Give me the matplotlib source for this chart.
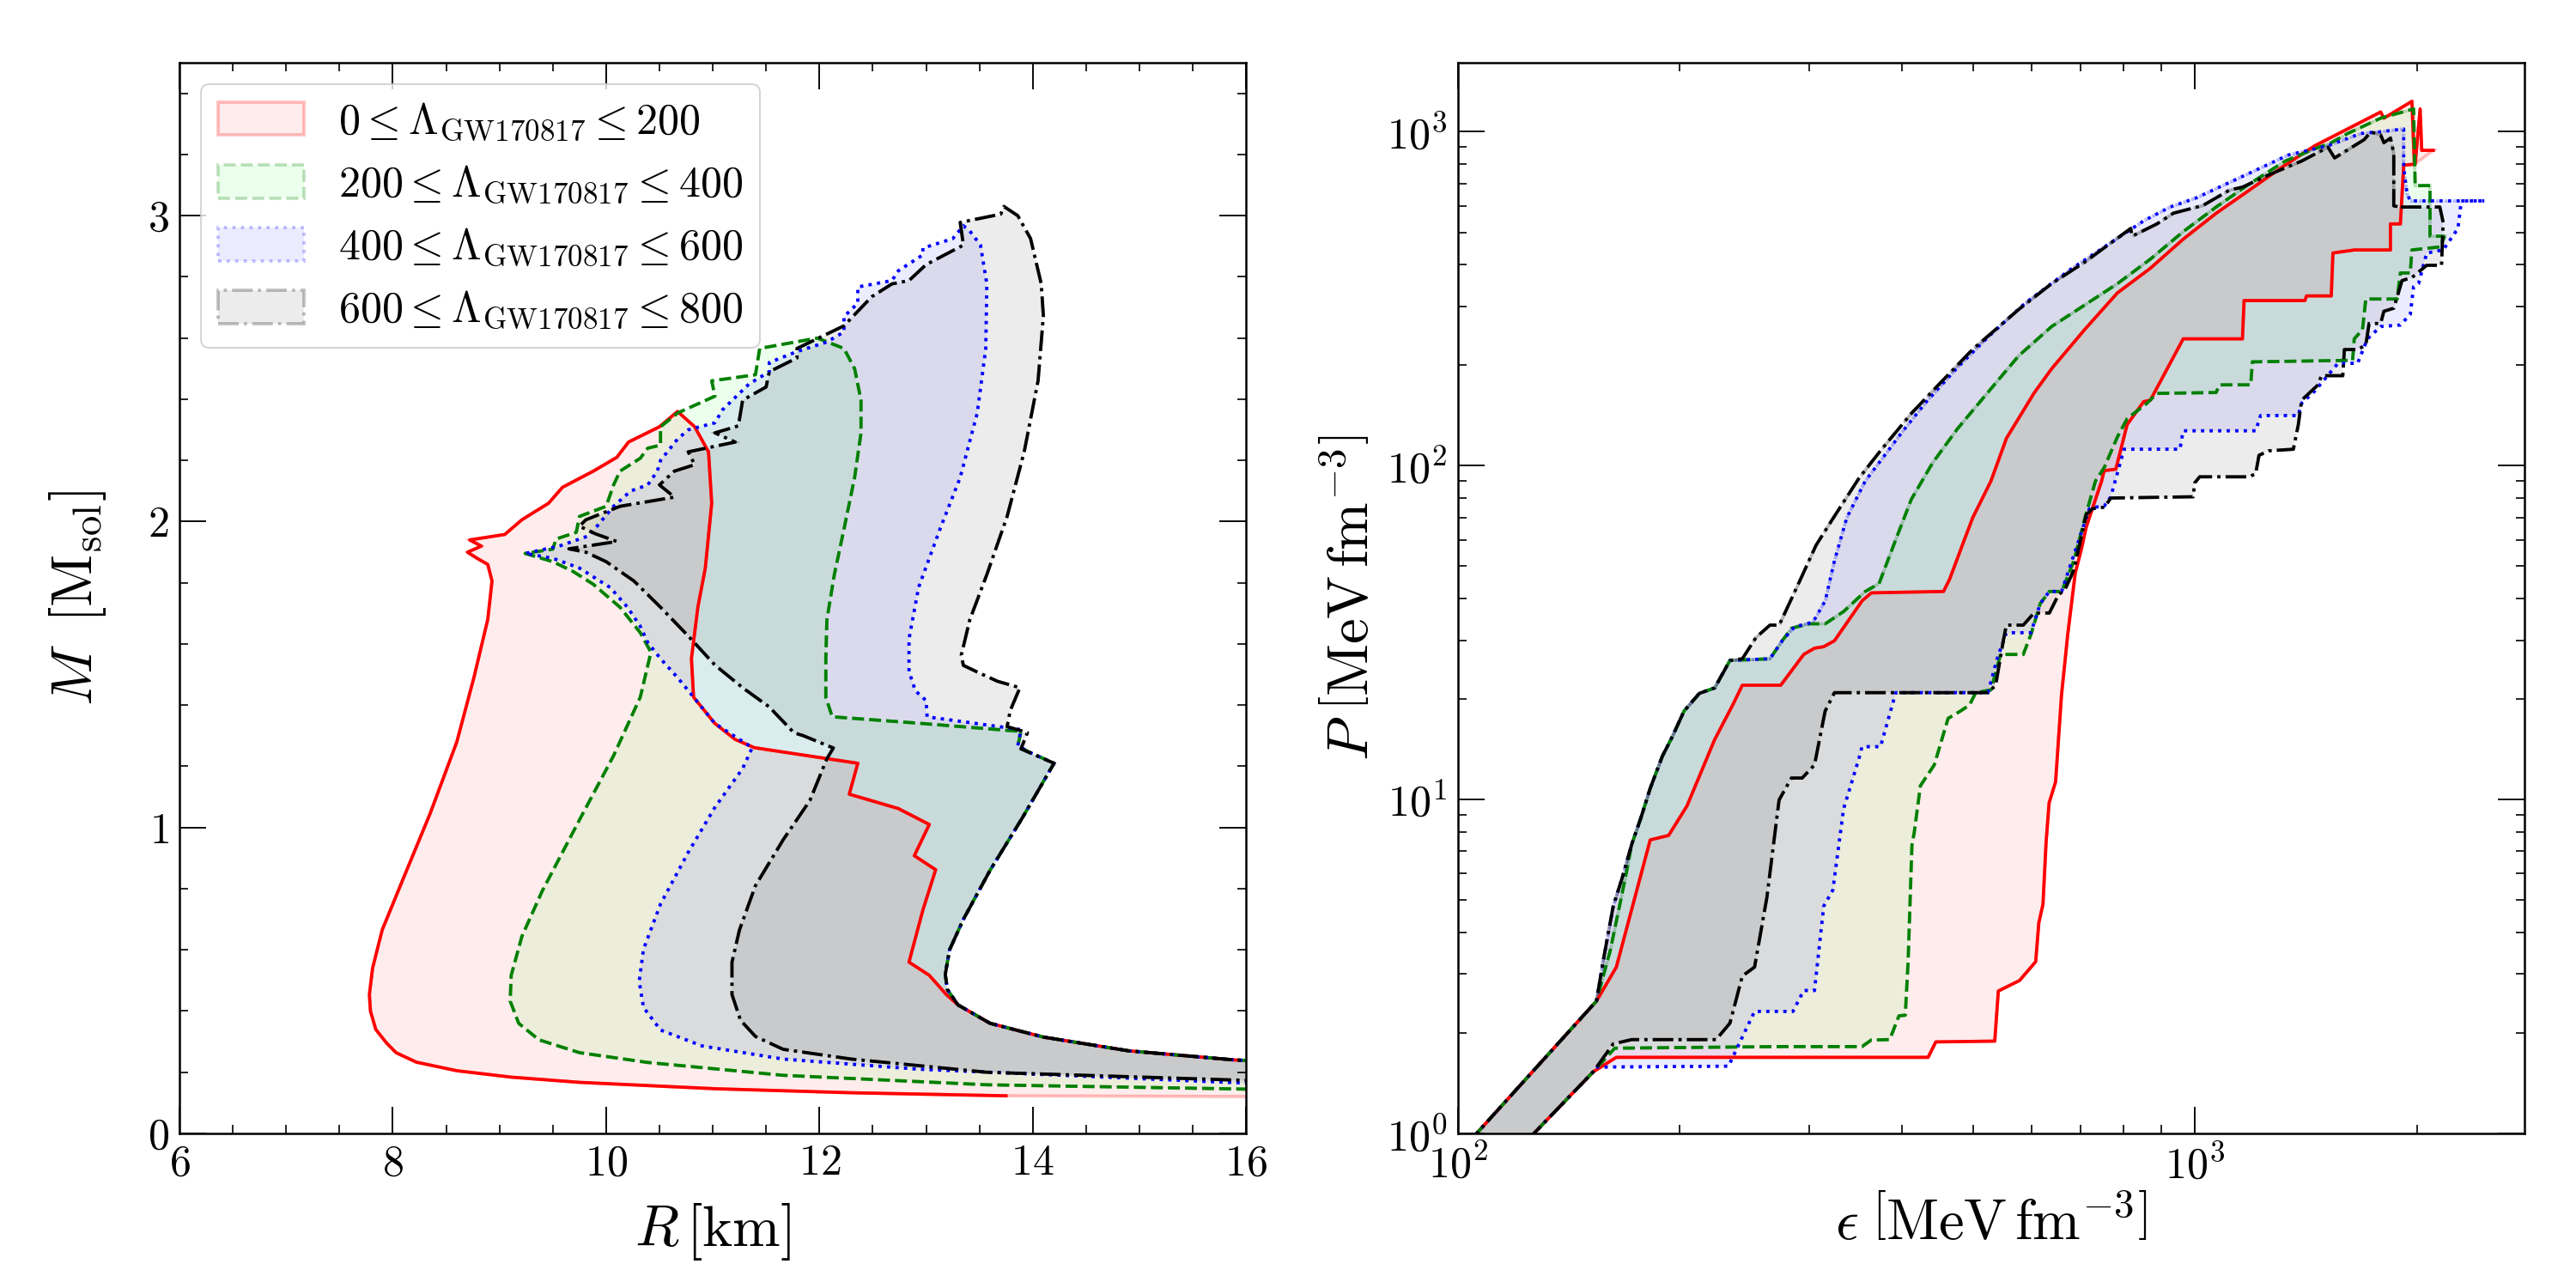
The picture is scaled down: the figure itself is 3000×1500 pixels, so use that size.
import matplotlib
matplotlib.use("Agg")
import matplotlib.pyplot as plt
from matplotlib.colors import to_rgba
from matplotlib.ticker import MultipleLocator, LogLocator, NullFormatter

plt.rcParams.update({
    "font.family": "serif",
    "font.serif": ["cmr10"],
    "mathtext.fontset": "cm",
    "axes.formatter.use_mathtext": True,
    "axes.unicode_minus": False,
})

# ---------------- M-R panel (R in km, M in Msol) ----------------
# soft edge of each band: from the low-mass end up to the tip
RED_SOFT_R = [13.75, 12.30, 11.03, 9.75, 9.11, 8.60, 8.22, 8.03, 7.94, 7.84, 7.79, 7.78, 7.81, 7.90, 8.10,
              8.35, 8.60, 8.76, 8.89, 8.93, 8.89, 8.79, 8.70, 8.83, 8.72, 9.05, 9.21, 9.46, 9.59, 9.88,
              10.10, 10.21, 10.50, 10.67]
RED_SOFT_M = [0.123, 0.133, 0.146, 0.167, 0.184, 0.205, 0.233, 0.264, 0.296, 0.34, 0.40, 0.454, 0.54, 0.665,
              0.835, 1.046, 1.28, 1.49, 1.68, 1.806, 1.86, 1.88, 1.90, 1.92, 1.94, 1.958, 2.006, 2.06, 2.112,
              2.165, 2.21, 2.26, 2.31, 2.36]
RED_STIFF_R = [10.83, 10.96, 10.99, 10.93, 10.86, 10.80, 10.82, 11.02, 11.21, 11.39, 12.36, 12.28, 12.74,
               13.03, 12.89, 13.09, 12.97, 12.84, 13.03, 13.19]
RED_STIFF_M = [2.31, 2.228, 2.06, 1.848, 1.72, 1.552, 1.426, 1.34, 1.288, 1.261, 1.21, 1.109, 1.062, 1.01,
               0.908, 0.862, 0.73, 0.56, 0.517, 0.454]
RED_FILL_R = [16.5]      # the shaded band runs on past the end of the red line
RED_FILL_M = [0.12]

GREEN_SOFT_R = [16.50, 13.57, 11.66, 10.39, 9.75, 9.37, 9.18, 9.10, 9.11, 9.21, 9.40, 9.75, 10.07, 10.32,
                10.42, 10.32, 10.13, 9.88, 9.69, 9.50, 9.24, 9.50, 9.53, 9.72, 9.75, 10.00, 10.07, 10.13,
                10.32, 10.39, 10.51, 10.51, 10.67, 11.02, 10.99, 11.40, 11.44, 11.98]
GREEN_SOFT_M = [0.142, 0.159, 0.19, 0.232, 0.264, 0.306, 0.36, 0.433, 0.517, 0.644, 0.792, 1.025, 1.235,
                1.426, 1.573, 1.637, 1.72, 1.795, 1.837, 1.869, 1.896, 1.91, 1.943, 1.965, 2.017, 2.05, 2.12,
                2.165, 2.207, 2.24, 2.25, 2.31, 2.355, 2.41, 2.46, 2.48, 2.566, 2.60]
GREEN_STIFF_R = [12.23, 12.33, 12.39, 12.39, 12.33, 12.23, 12.14, 12.07, 12.06, 12.06, 12.12, 12.93, 13.89,
                 13.86, 13.97]
GREEN_STIFF_M = [2.566, 2.50, 2.397, 2.29, 2.144, 1.975, 1.827, 1.679, 1.552, 1.426, 1.362, 1.341, 1.314,
                 1.267, 1.246]

BLUE_SOFT_R = [16.50, 12.93, 11.66, 10.90, 10.51, 10.35, 10.31, 10.35, 10.51, 10.77, 11.02, 11.28, 11.37,
               11.02, 10.82, 10.67, 10.51, 10.39, 10.32, 10.20, 10.04, 9.75, 9.50, 9.24, 9.56, 9.84, 10.07,
               10.23, 10.39, 10.48, 10.51, 10.67, 10.77, 11.02, 11.09, 11.34, 11.53, 11.53, 11.79, 12.07,
               12.23, 12.23, 12.36, 12.36, 12.68, 12.74, 12.97, 12.97, 13.25, 13.35]
BLUE_SOFT_M = [0.157, 0.21, 0.243, 0.286, 0.338, 0.412, 0.497, 0.602, 0.75, 0.919, 1.066, 1.193, 1.261,
               1.34, 1.426, 1.49, 1.552, 1.605, 1.658, 1.72, 1.784, 1.848, 1.88, 1.896, 1.92, 1.954, 2.05,
               2.10, 2.12, 2.165, 2.20, 2.27, 2.30, 2.323, 2.365, 2.45, 2.49, 2.52, 2.556, 2.587, 2.62, 2.67,
               2.714, 2.767, 2.788, 2.82, 2.872, 2.894, 2.925, 2.967]
BLUE_STIFF_R = [13.41, 13.51, 13.57, 13.56, 13.48, 13.32, 13.13, 12.93, 12.84, 12.84, 12.90, 13.00, 13.01,
                13.89, 13.86, 13.97]
BLUE_STIFF_M = [2.95, 2.904, 2.777, 2.566, 2.355, 2.144, 1.975, 1.785, 1.616, 1.51, 1.447, 1.415, 1.362,
                1.32, 1.267, 1.246]

BLACK_SOFT_R = [16.50, 13.57, 12.30, 11.66, 11.40, 11.26, 11.18, 11.18, 11.25, 11.40, 11.66, 11.91, 12.07,
                12.13, 11.85, 11.76, 11.53, 11.28, 11.02, 10.77, 10.51, 10.26, 10.00, 9.81, 9.65, 10.10, 9.90,
                9.75, 9.81, 10.13, 10.64, 10.50, 10.64, 10.83, 10.77, 11.21, 11.02, 11.24, 11.28, 11.50,
                11.53, 11.79, 11.79, 12.23, 12.49, 12.68, 12.84, 13.00, 13.35, 13.32, 13.70]
BLACK_SOFT_M = [0.168, 0.20, 0.243, 0.275, 0.317, 0.37, 0.454, 0.56, 0.665, 0.81, 0.96, 1.088, 1.225, 1.26,
                1.30, 1.31, 1.394, 1.457, 1.531, 1.626, 1.72, 1.806, 1.869, 1.90, 1.911, 1.935, 1.96, 1.985,
                2.006, 2.05, 2.08, 2.12, 2.165, 2.186, 2.228, 2.26, 2.29, 2.313, 2.397, 2.44, 2.49, 2.535,
                2.566, 2.64, 2.735, 2.777, 2.788, 2.84, 2.904, 2.978, 3.005]
BLACK_STIFF_R = [13.73, 13.86, 13.98, 14.08, 14.10, 14.05, 13.92, 13.76, 13.57, 13.41, 13.33, 13.35, 13.47,
                 13.67, 13.88, 13.79, 13.76, 13.95, 13.89]
BLACK_STIFF_M = [3.03, 3.0, 2.925, 2.777, 2.672, 2.46, 2.228, 2.017, 1.827, 1.679, 1.563, 1.53, 1.51, 1.478,
                 1.457, 1.383, 1.33, 1.31, 1.257]

# stiff branch shared by the three upper bands, and low-mass tail shared by all
SHARED_R = [14.20, 13.90, 13.60, 13.35, 13.22, 13.18, 13.20]
SHARED_M = [1.21, 1.03, 0.86, 0.70, 0.60, 0.52, 0.47]
TAIL_R = [13.30, 13.60, 14.10, 14.90, 15.90, 16.50]
TAIL_M = [0.42, 0.36, 0.315, 0.27, 0.24, 0.232]

# ---------------- EoS panel (eps, P in MeV fm^-3) ----------------
RED_LO_E = [115, 152.6, 164.0, 434.4, 445.0, 535, 541, 565, 578, 608, 614, 622, 628, 634, 647, 659, 672, 688,
            701, 712, 747, 753, 781, 809, 852, 870, 964, 1160, 1166, 1410, 1417, 1531, 1539, 1645, 1842,
            1842, 1900, 1920, 1990, 2021, 2031, 2106]
RED_LO_P = [0.80, 1.53, 1.69, 1.69, 1.88, 1.89, 2.67, 2.80, 2.87, 3.27, 4.28, 4.86, 7.42, 9.77, 11.3, 20.5,
            31.2, 47.7, 56.0, 65.5, 89.9, 96.6, 97.6, 132.7, 155.5, 157.1, 239.8, 239.8, 312.3, 312.3, 322.4,
            322.4, 433.5, 442.6, 442.6, 529.7, 529.7, 794.3, 800.1, 1170.8, 879.7, 879.7]
RED_HI_E = [95, 154.1, 164.0, 182.3, 193.1, 204.5, 222.9, 236.2, 243.1, 274.1, 294.5, 304.6, 313.5, 324.2,
            353.5, 363.8, 455.8, 464.6, 485.0, 499.3, 528.6, 554.9, 604.9, 638.9, 708.3, 784.8, 869.8, 964.1,
            1068.4, 1184.5, 1312.2, 1454.3, 1611.7, 1786.4, 1804.7, 1969.8, 1985]
RED_HI_P = [0.766, 2.49, 3.15, 7.57, 7.81, 9.57, 15.1, 19.3, 22.0, 22.0, 27.2, 28.4, 28.7, 29.9, 39.4, 41.6,
            42.0, 45.7, 58.9, 69.8, 89.9, 120.8, 165, 195, 255.5, 329.2, 390, 477, 570, 668, 783.2, 908.2,
            1020.2, 1146.2, 1098.5, 1233.8, 800]

GREEN_LO_E = [115, 152.6, 163.2, 272.7, 353.4, 363.8, 385.3, 396.6, 404.5, 408.1, 413.0, 416.0, 424.1, 442.9,
              462.4, 480.5, 494.5, 504.1, 528.6, 544.1, 549.5, 584.8, 599.0, 616.6, 634.5, 659.3, 685.1,
              710.0, 732.8, 753.2, 784.8, 809.3, 860.9, 887.9, 1068.4, 1079.5, 1190.4, 1196.5, 1636.6,
              1645.0, 1688.0, 1705.5, 1880.6, 1900.2, 1959.4, 1969.8, 2149.4, 2182.5]
GREEN_LO_P = [0.80, 1.53, 1.80, 1.82, 1.82, 1.905, 1.91, 2.25, 2.26, 3.27, 7.30, 7.97, 11.0, 12.7, 17.5, 18.4,
              19.2, 20.9, 21.3, 26.9, 27.2, 27.2, 31.2, 38.6, 42.0, 42.0, 51.9, 70.5, 89.9, 98.7, 121.9,
              138.4, 153.8, 164.6, 165.6, 174.6, 174.6, 204.6, 206.8, 239.8, 255.5, 315.6, 315.6, 377.7,
              377.7, 442.6, 452.0, 486.8]
GREEN_HI_E = [95, 154.1, 160.9, 168.8, 172.1, 177.1, 182.3, 189.4, 195.0, 202.6, 212.6, 223.0, 233.9, 265.0,
              275.4, 283.5, 300.2, 315.0, 333.7, 356.9, 372.6, 392.7, 412.1, 440.6, 475.9, 523.9, 576.7,
              638.9, 708.3, 784.8, 869.8, 964.1, 1068.4, 1184.5, 1325.9, 1454.3, 1531.2, 1611.7, 1786.4,
              1980.1, 1990.0, 2084.3, 2084.3, 2182.5]
GREEN_HI_P = [0.766, 2.49, 3.53, 5.87, 7.35, 8.82, 10.8, 13.5, 15.3, 18.4, 20.8, 21.6, 26.1, 26.4, 29.9, 32.6,
              33.6, 33.6, 36.6, 42.0, 44.3, 60.1, 79.2, 102.0, 128.8, 166.0, 213.5, 261.0, 302.6, 350.8,
              415.4, 502.4, 595.1, 697.3, 817.3, 889.2, 927.7, 988.3, 1098.5, 1170.8, 690.0, 690.0, 486.8,
              486.8]

BLUE_LO_E = [115, 152.6, 153.4, 232.8, 252.6, 284.8, 294.5, 304.6, 313.5, 322.6, 333.6, 350.1, 353.4, 374.4,
             392.7, 523.8, 539.0, 554.8, 599.0, 616.6, 634.5, 659.3, 698.4, 718.9, 730.3, 753.2, 768.8, 801.2,
             954.2, 963.9, 1209.0, 1227.6, 1381.2, 1395.6, 1454.3, 1507.8, 1563.2, 1662.2, 1714.4, 1786.4,
             1900.2, 1959.9, 1980.1, 2010.9, 2063.1, 2171.8, 2274.6, 2298.3, 2469.9]
BLUE_LO_P = [0.80, 1.53, 1.58, 1.59, 2.32, 2.32, 2.68, 2.68, 4.79, 5.36, 9.38, 13.3, 14.4, 14.4, 20.9, 20.9,
             26.4, 31.6, 31.6, 38.6, 42.0, 42.0, 61.4, 74.3, 75.0, 75.7, 80.7, 112.0, 112.0, 127.2, 127.2,
             141.3, 141.3, 153.8, 167.4, 184.1, 202.5, 202.5, 239.8, 261.0, 263.8, 284.0, 343.5, 350.8,
             433.4, 442.6, 513.2, 620.9, 620.9]
BLUE_HI_E = [95, 154.1, 157.8, 162.4, 167.2, 172.1, 177.1, 182.3, 189.4, 195.0, 202.6, 212.6, 223.0, 233.9,
             265.0, 275.4, 286.2, 303.2, 315.0, 324.2, 336.9, 356.9, 378.1, 400.5, 432.4, 475.9, 523.9, 587.7,
             677.2, 852.1, 925.3, 1004.5, 1090.6, 1209.0, 1339.1, 1515.5, 1679.4, 1777.2, 1919.7, 1919.7,
             1939.7, 1959.4, 2469.9]
BLUE_HI_P = [0.766, 2.49, 3.39, 4.79, 5.87, 7.35, 8.82, 10.8, 13.5, 15.3, 18.4, 20.8, 21.6, 26.1, 26.4, 29.9,
             32.9, 34.0, 39.4, 51.9, 69.8, 89.9, 106.4, 126.1, 155.7, 196.6, 242.8, 306.3, 386.5, 541.2,
             595.1, 634.2, 690.0, 767.0, 852.2, 908.2, 988.3, 998.9, 1020.0, 783.2, 654.6, 620.9, 620.9]

BLACK_LO_E = [115, 152.6, 162.4, 172.1, 224.0, 233.9, 243.1, 252.6, 262.5, 272.7, 283.4, 293.1, 304.6, 314.9,
              324.2, 523.8, 536.5, 549.5, 554.8, 584.8, 604.8, 634.5, 653.1, 665.7, 685.1, 698.4, 712.0,
              725.8, 754.1, 768.8, 994.3, 999.3, 1014.8, 1184.5, 1209.0, 1221.5, 1259.5, 1360.0, 1381.2,
              1395.6, 1469.2, 1484.5, 1587.0, 1595.1, 1662.2, 1705.5, 1722.9, 1786.4, 1804.7, 1861.2,
              1909.8, 1969.8, 2063.1, 2160.8, 2171.8, 2149.4, 1900.2]
BLACK_LO_P = [0.80, 1.53, 1.855, 1.91, 1.91, 2.14, 2.96, 3.15, 5.09, 9.97, 11.6, 11.6, 12.7, 18.4, 20.9, 20.9,
              22.0, 29.9, 33.3, 33.3, 36.2, 36.2, 41.1, 42.4, 48.7, 58.9, 71.3, 74.3, 75.1, 80.0, 80.7, 88.8,
              92.6, 92.6, 94.6, 107.4, 110.8, 112.0, 132.7, 157.1, 174.6, 186.0, 186.0, 222.7, 222.7, 229.8,
              266.6, 266.6, 290.0, 296.2, 358.3, 365.9, 398.2, 398.2, 535.4, 595.1, 595.1]
BLACK_HI_E = [95, 154.1, 157.8, 162.4, 167.2, 172.1, 177.1, 182.3, 189.4, 195.0, 202.6, 212.6, 223.0, 233.9,
              243.1, 253.8, 265.0, 272.8, 291.6, 306.0, 321.1, 350.1, 374.5, 412.1, 445.0, 499.3, 576.6,
              638.9, 708.3, 817.8, 822.0, 887.9, 934.9, 1025.2, 1113.4, 1160.0, 1259.5, 1395.6, 1515.5,
              1547.0, 1696.7, 1732.2, 1786.4, 1804.7, 1842.4, 1861.2, 1861.2, 1900.2]
BLACK_HI_P = [0.766, 2.49, 3.39, 4.79, 5.87, 7.35, 8.82, 10.8, 13.5, 15.3, 18.4, 20.8, 21.6, 26.1, 26.4, 30.6,
              33.3, 33.3, 45.7, 57.7, 68.3, 91.8, 111.0, 143.2, 171.3, 223.1, 293.7, 350.8, 406.7, 513.2,
              486.8, 529.7, 570.5, 601.4, 668.5, 682.8, 743.0, 817.3, 898.9, 834.7, 947.3, 998.9, 977.9,
              927.7, 957.4, 861.3, 600.0, 595.1]

LABELS = [r"$0 \leq \Lambda_{\mathrm{GW170817}} \leq 200$",
          r"$200 \leq \Lambda_{\mathrm{GW170817}} \leq 400$",
          r"$400 \leq \Lambda_{\mathrm{GW170817}} \leq 600$",
          r"$600 \leq \Lambda_{\mathrm{GW170817}} \leq 800$"]
COLORS = ["red", "green", "blue", "black"]
FILL_COLORS = ["red", "lime", "blue", "black"]
STYLES = ["-", "--", ":", "-."]
LW = 1.8
FACE_A, EDGE_A = 0.075, 0.25

fig = plt.figure(figsize=(20, 10), dpi=150)
ax1 = fig.add_axes([0.0697, 0.12, 0.414, 0.8313])
ax2 = fig.add_axes([0.566, 0.12, 0.414, 0.8313])

# ---- left: mass-radius bands ----
mr_lines = [
    (RED_SOFT_R + RED_STIFF_R + TAIL_R, RED_SOFT_M + RED_STIFF_M + TAIL_M),
    (GREEN_SOFT_R + GREEN_STIFF_R + SHARED_R + TAIL_R, GREEN_SOFT_M + GREEN_STIFF_M + SHARED_M + TAIL_M),
    (BLUE_SOFT_R + BLUE_STIFF_R + SHARED_R + TAIL_R, BLUE_SOFT_M + BLUE_STIFF_M + SHARED_M + TAIL_M),
    (BLACK_SOFT_R + BLACK_STIFF_R + SHARED_R + TAIL_R, BLACK_SOFT_M + BLACK_STIFF_M + SHARED_M + TAIL_M),
]
for i, (r, m) in enumerate(mr_lines):
    fr, fm = (RED_FILL_R + r, RED_FILL_M + m) if i == 0 else (r, m)
    ax1.fill(fr, fm, facecolor=to_rgba(FILL_COLORS[i], FACE_A), edgecolor=to_rgba(COLORS[i], EDGE_A),
             linestyle=STYLES[i], linewidth=LW, label=LABELS[i], zorder=1)
for i, (r, m) in enumerate(mr_lines):
    ax1.plot(r, m, color=COLORS[i], ls=STYLES[i], lw=LW, zorder=2)

ax1.set_xlim(6, 16)
ax1.set_ylim(0, 3.5)
ax1.xaxis.set_major_locator(MultipleLocator(2))
ax1.xaxis.set_minor_locator(MultipleLocator(0.5))
ax1.yaxis.set_major_locator(MultipleLocator(1))
ax1.yaxis.set_minor_locator(MultipleLocator(0.2))
ax1.set_xlabel(r"$R\,[\mathrm{km}]$", fontsize=32, labelpad=10)
ax1.set_ylabel(r"$M\;\;[\mathrm{M}_{\mathrm{sol}}]$", fontsize=32, labelpad=22)
ax1.legend(loc="upper left", fontsize=24, handlelength=2.0, handleheight=0.8)

# ---- right: EoS bands ----
eos = [
    (RED_LO_E, RED_LO_P, RED_HI_E, RED_HI_P),
    (GREEN_LO_E, GREEN_LO_P, GREEN_HI_E, GREEN_HI_P),
    (BLUE_LO_E, BLUE_LO_P, BLUE_HI_E, BLUE_HI_P),
    (BLACK_LO_E, BLACK_LO_P, BLACK_HI_E, BLACK_HI_P),
]
for i, (le, lp, he, hp) in enumerate(eos):
    ax2.fill(le + he[::-1], lp + hp[::-1], facecolor=to_rgba(FILL_COLORS[i], FACE_A),
             edgecolor=to_rgba(COLORS[i], EDGE_A), linestyle=STYLES[i], linewidth=LW, zorder=1)
for i, (le, lp, he, hp) in enumerate(eos):
    ax2.plot(le, lp, color=COLORS[i], ls=STYLES[i], lw=LW, zorder=2)
    ax2.plot(he, hp, color=COLORS[i], ls=STYLES[i], lw=LW, zorder=2)

ax2.set_xscale("log")
ax2.set_yscale("log")
ax2.set_xlim(100, 2800)
ax2.set_ylim(1, 1610)
for axis in (ax2.xaxis, ax2.yaxis):
    axis.set_major_locator(LogLocator(base=10, numticks=10))
    axis.set_minor_locator(LogLocator(base=10, subs=range(2, 10), numticks=20))
    axis.set_minor_formatter(NullFormatter())
ax2.set_xlabel(r"$\epsilon\;\left[\mathrm{MeV\,fm}^{-3}\right]$", fontsize=32, labelpad=6)
ax2.set_ylabel(r"$P\;\left[\mathrm{MeV\,fm}^{-3}\right]$", fontsize=32, labelpad=4)

for ax in (ax1, ax2):
    ax.tick_params(which="both", direction="in", top=True, right=True, labelsize=24)
    ax.tick_params(which="major", length=15, width=0.9, pad=6)
    ax.tick_params(which="minor", length=5, width=0.8)
    for s in ax.spines.values():
        s.set_linewidth(1.2)

fig.savefig("out.png", dpi=150)
